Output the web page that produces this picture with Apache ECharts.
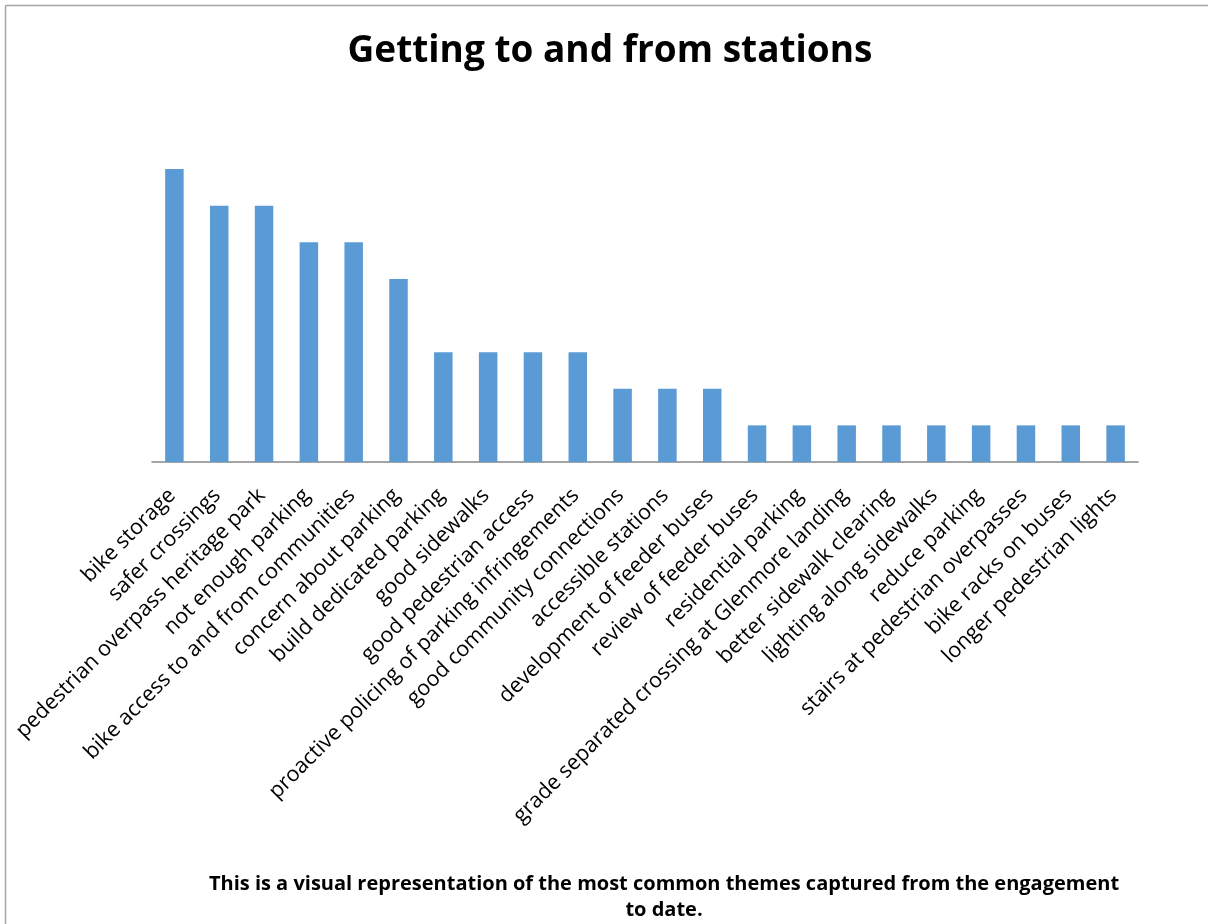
<!DOCTYPE html>
<html><head><meta charset="utf-8">
<script src="https://cdn.jsdelivr.net/npm/echarts@6/dist/echarts.min.js"></script>
<style>html,body{margin:0;padding:0;background:#fff;}#c{width:1208px;height:924px;}</style>
</head><body><div id="c"></div>
<script>
const categories = ["bike storage","safer crossings","pedestrian overpass heritage park","not enough parking","bike access to and from communities","concern about parking","build dedicated parking","good sidewalks","good pedestrian access","proactive policing of parking infringements","good community connections","accessible stations","development of feeder buses","review of feeder buses","residential parking","grade separated crossing at Glenmore landing","better sidewalk clearing","lighting along sidewalks","reduce parking","stairs at pedestrian overpasses","bike racks on buses","longer pedestrian lights"];
const values = [8,7,7,6,6,5,3,3,3,3,2,2,2,1,1,1,1,1,1,1,1,1];
const titleText = "Getting to and from stations";
const footnote = "This is a visual representation of the most common themes captured from the engagement\nto date.";

const chart = echarts.init(document.getElementById('c'));
chart.setOption({
  animation: false,
  backgroundColor: '#fff',
  title: [
    {text: titleText, left: 605, top: 28, textAlign: 'center',
     textStyle: {fontFamily: 'Open Sans', fontWeight: 'bold', fontSize: 37, color: '#000'}},
    {text: footnote, left: 659, top: 866, textAlign: 'center',
     textStyle: {fontFamily: 'Open Sans', fontWeight: 'bold', fontSize: 20, color: '#000', lineHeight: 26}}
  ],
  graphic: [
    {type: 'line', shape: {x1: 5.5, y1: 5.5, x2: 5.5, y2: 924}, style: {stroke: '#a6a6a6', lineWidth: 1.5}},
    {type: 'line', shape: {x1: 5.5, y1: 5.5, x2: 1208, y2: 5.5}, style: {stroke: '#a6a6a6', lineWidth: 1.5}}
  ],
  grid: {left: 152, right: 70, top: 169, bottom: 462, containLabel: false},
  xAxis: {
    type: 'category', data: categories,
    axisLine: {lineStyle: {color: '#868686', width: 1.5}},
    axisTick: {show: false},
    axisLabel: {interval: 0, rotate: 45, margin: 28, padding: [0, 3, 0, 0], fontFamily: 'Open Sans', fontSize: 21.5, color: '#000'}
  },
  yAxis: {type: 'value', min: 0, max: 8, show: false, splitLine: {show: false}},
  series: [{type: 'bar', data: values, barWidth: 18.5, itemStyle: {color: '#5B9BD5'}}]
});
</script></body></html>
